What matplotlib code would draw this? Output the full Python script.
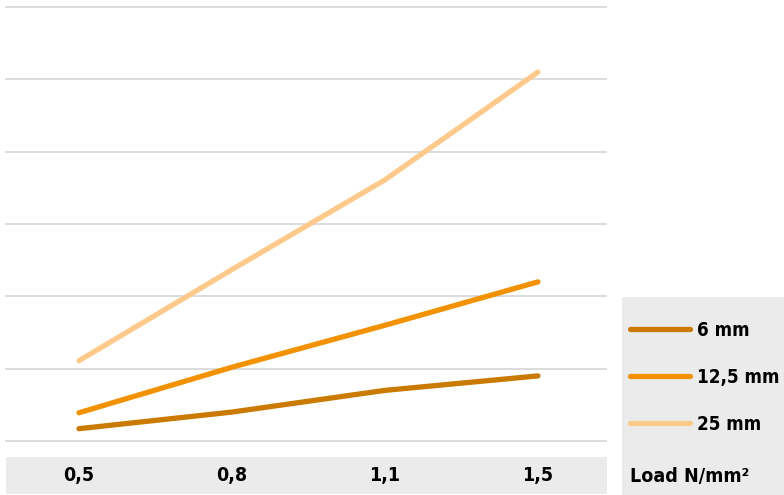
import matplotlib
matplotlib.use('Agg')
import matplotlib.pyplot as plt
from matplotlib.patches import Rectangle
from matplotlib.transforms import blended_transform_factory

# data (arbitrary units: one grid step = 1)
loads = ['0,5', '0,8', '1,1', '1,5']
s_6mm = [0.17, 0.40, 0.70, 0.90]
s_12mm = [0.39, 1.02, 1.60, 2.20]
s_25mm = [1.11, 2.37, 3.61, 5.10]
series_names = ['6 mm', '12,5 mm', '25 mm']
x_label = 'Load N/mm²'

colors = ['#CB7A00', '#F39200', '#FDCA8C']
band = '#EBEBEB'

plt.rcParams['font.family'] = ['DejaVu Sans']
plt.rcParams['font.stretch'] = 'condensed'
plt.rcParams['font.weight'] = 'bold'

W, H = 784, 495
fig = plt.figure(figsize=(W / 100, H / 100), dpi=100)

def fx(px):
    return px / W

def fy(py):
    return 1 - py / H

# main axes: grid 0 at py 441, grid 6 at py 7
ax = fig.add_axes([fx(6), fy(441), fx(606) - fx(6), fy(7) - fy(441)])
ax.set_xlim(-0.477, 3.445)
ax.set_ylim(0, 6)
ax.axis('off')

for g in range(7):
    ax.axhline(g, color='#D9D9D9', lw=1.3, clip_on=False, zorder=1)

x = range(len(loads))
handles = []
for vals, c, name in zip([s_6mm, s_12mm, s_25mm], colors, series_names):
    ln, = ax.plot(x, vals, color=c, lw=3.8, solid_capstyle='round',
                  solid_joinstyle='round', label=name, zorder=3)
    handles.append(ln)

# bottom band with category labels
fig.patches.append(Rectangle((fx(6), fy(494)), fx(607) - fx(6), fy(457) - fy(494),
                             transform=fig.transFigure, facecolor=band,
                             edgecolor='none', zorder=-1))
trans = blended_transform_factory(ax.transData, fig.transFigure)
for i, lab in enumerate(loads):
    ax.text(i, fy(476), lab, transform=trans, ha='center', va='center',
            fontsize=14, fontweight='bold', fontstretch='condensed',
            color='black', clip_on=False, zorder=5)

# legend panel
fig.patches.append(Rectangle((fx(622), 0), 1 - fx(622), fy(297),
                             transform=fig.transFigure, facecolor=band,
                             edgecolor='none', zorder=-1))
leg = fig.legend(handles=handles, loc='upper left',
                 bbox_to_anchor=(fx(622), fy(313)), frameon=False,
                 prop={'size': 13.5, 'weight': 'bold', 'stretch': 'condensed'},
                 handlelength=3.2, handletextpad=0.4,
                 labelspacing=1.5, borderaxespad=0)
fig.text(fx(630), fy(476), x_label, ha='left', va='center',
         fontsize=14, fontweight='bold', fontstretch='condensed', color='black')

fig.savefig('out.png', dpi=100, facecolor='white')
